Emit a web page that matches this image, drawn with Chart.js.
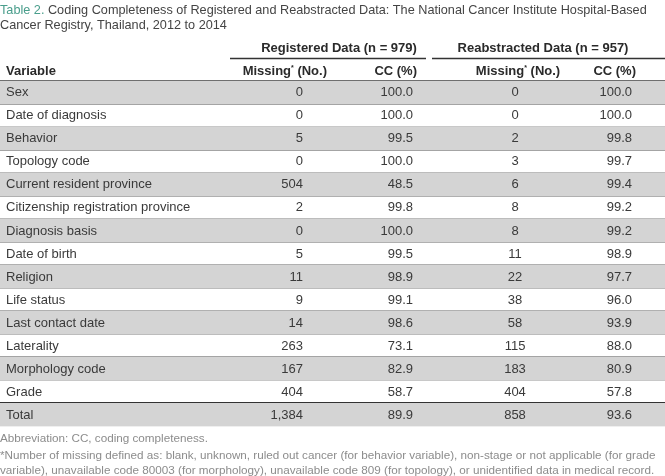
<!DOCTYPE html>
<html><head><meta charset="utf-8">
<script src="https://cdn.jsdelivr.net/npm/chart.js@4/dist/chart.umd.min.js"></script>
<style>html,body{margin:0;padding:0;background:#fff}#wrap{width:665px;height:476px;position:relative}</style>
</head><body><div id="wrap"><canvas id="c"></canvas></div>
<script>
const variables = ["Sex","Date of diagnosis","Behavior","Topology code","Current resident province","Citizenship registration province","Diagnosis basis","Date of birth","Religion","Life status","Last contact date","Laterality","Morphology code","Grade","Total"];
const regMissing = [0,0,5,0,504,2,0,5,11,9,14,263,167,404,1384];
const regCC = [100.0,100.0,99.5,100.0,48.5,99.8,100.0,99.5,98.9,99.1,98.6,73.1,82.9,58.7,89.9];
const reabMissing = [0,0,2,3,6,8,8,11,22,38,58,115,183,404,858];
const reabCC = [100.0,100.0,99.8,99.7,99.4,99.2,99.2,98.9,97.7,96.0,93.9,88.0,80.9,57.8,93.6];
const titleLabel = "Table 2.";
const titleLines = [" Coding Completeness of Registered and Reabstracted Data: The National Cancer Institute Hospital-Based", "Cancer Registry, Thailand, 2012 to 2014"];
const groupHeaders = ["Registered Data (n = 979)", "Reabstracted Data (n = 957)"];
const footnotes = ["Abbreviation: CC, coding completeness.",
 "*Number of missing defined as: blank, unknown, ruled out cancer (for behavior variable), non-stage or not applicable (for grade",
 "variable), unavailable code 80003 (for morphology), unavailable code 809 (for topology), or unidentified data in medical record."];

const FONT = '"Liberation Sans", Arial, sans-serif';
const TXT = '#3a3a3a';
const W = 665;
// column anchors in x-scale data units
const COL = {varX: 6, regMiss: 303, regCC: 413, reabMiss: 515, reabCC: 632};

const fmtInt = v => v.toLocaleString('en-US');

const tablePlugin = {
  id: 'tableText',
  afterDraw(chart) {
    const ctx = chart.ctx, xs = chart.scales.x, ys = chart.scales.y;
    ctx.save();
    ctx.textBaseline = 'alphabetic';
    // title
    ctx.font = '12.7px ' + FONT;
    ctx.textAlign = 'left';
    ctx.fillStyle = '#4a9e8c';
    ctx.fillText(titleLabel, 0, 14);
    const tw = ctx.measureText(titleLabel).width;
    ctx.fillStyle = '#444';
    ctx.fillText(titleLines[0], tw, 14);
    ctx.fillText(titleLines[1], 0, 29);
    // group headers
    ctx.font = 'bold 13px ' + FONT;
    ctx.fillStyle = '#2a2a2a';
    ctx.textAlign = 'center';
    ctx.fillText(groupHeaders[0], xs.getPixelForValue(339), 51.5);
    ctx.fillText(groupHeaders[1], xs.getPixelForValue(543), 51.5);
    ctx.strokeStyle = '#333';
    ctx.lineWidth = 1.5;
    ctx.beginPath();
    ctx.moveTo(xs.getPixelForValue(230), 58.5); ctx.lineTo(xs.getPixelForValue(426), 58.5);
    ctx.moveTo(xs.getPixelForValue(432), 58.5); ctx.lineTo(xs.getPixelForValue(665), 58.5);
    ctx.stroke();
    // column headers
    const hy = 74.5;
    ctx.textAlign = 'left';
    ctx.fillText('Variable', xs.getPixelForValue(COL.varX), hy);
    const drawMissing = (x, align) => {
      const a = 'Missing', b = '*', c = ' (No.)';
      ctx.font = 'bold 13px ' + FONT;
      const wa = ctx.measureText(a).width, wc = ctx.measureText(c).width;
      ctx.font = 'bold 7px ' + FONT;
      const wb = ctx.measureText(b).width;
      const total = wa + wb + wc;
      let x0 = align === 'right' ? x - total : x - total / 2;
      ctx.textAlign = 'left';
      ctx.font = 'bold 13px ' + FONT;
      ctx.fillText(a, x0, hy);
      ctx.font = 'bold 7px ' + FONT;
      ctx.fillText(b, x0 + wa, hy - 5);
      ctx.font = 'bold 13px ' + FONT;
      ctx.fillText(c, x0 + wa + wb, hy);
    };
    drawMissing(xs.getPixelForValue(327), 'right');
    drawMissing(xs.getPixelForValue(518), 'center');
    ctx.font = 'bold 13px ' + FONT;
    ctx.textAlign = 'right';
    ctx.fillText('CC (%)', xs.getPixelForValue(417), hy);
    ctx.fillText('CC (%)', xs.getPixelForValue(636), hy);
    // rows
    ctx.font = '13px ' + FONT;
    ctx.fillStyle = TXT;
    ctx.textBaseline = 'middle';
    variables.forEach((v, i) => {
      const y = ys.getPixelForValue(i) + 0.5;
      ctx.textAlign = 'left';
      ctx.fillText(v, xs.getPixelForValue(COL.varX), y);
      ctx.textAlign = 'right';
      ctx.fillText(fmtInt(regMissing[i]), xs.getPixelForValue(COL.regMiss), y);
      ctx.fillText(regCC[i].toFixed(1), xs.getPixelForValue(COL.regCC), y);
      ctx.textAlign = 'center';
      ctx.fillText(fmtInt(reabMissing[i]), xs.getPixelForValue(COL.reabMiss), y);
      ctx.textAlign = 'right';
      ctx.fillText(reabCC[i].toFixed(1), xs.getPixelForValue(COL.reabCC), y);
    });
    // footnotes
    ctx.textBaseline = 'alphabetic';
    ctx.textAlign = 'left';
    ctx.font = '11.7px ' + FONT;
    ctx.fillStyle = '#8c8c8c';
    ctx.fillText(footnotes[0], 0, 442);
    ctx.fillText(footnotes[1], 0, 459);
    ctx.fillText(footnotes[2], 0, 474);
    ctx.restore();
  }
};

new Chart(document.getElementById('c'), {
  type: 'bar',
  data: {
    labels: variables,
    datasets: [{
      data: variables.map((_, i) => i % 2 === 0 ? W : null),
      backgroundColor: '#d4d4d4',
      borderWidth: 0,
      barPercentage: 1,
      categoryPercentage: 1
    }]
  },
  options: {
    indexAxis: 'y',
    responsive: true,
    maintainAspectRatio: false,
    animation: false,
    events: [],
    layout: { padding: { top: 80.5, bottom: 49.5, left: 0, right: 0 } },
    plugins: { legend: { display: false }, tooltip: { enabled: false }, title: { display: false } },
    scales: {
      x: { type: 'linear', min: 0, max: W, display: false },
      y: {
        display: true,
        z: 1,
        ticks: { display: false },
        border: { display: false },
        grid: {
          offset: true,
          drawTicks: false,
          tickLength: 0,
          color: c => {
            if (c.index === undefined || c.index >= variables.length) return 'rgba(0,0,0,0)';
            return (c.index === 0 || c.index === variables.length - 1) ? '#333' : '#a4a4a4';
          },
          lineWidth: 2
        }
      }
    }
  },
  plugins: [tablePlugin]
});
</script></body></html>
